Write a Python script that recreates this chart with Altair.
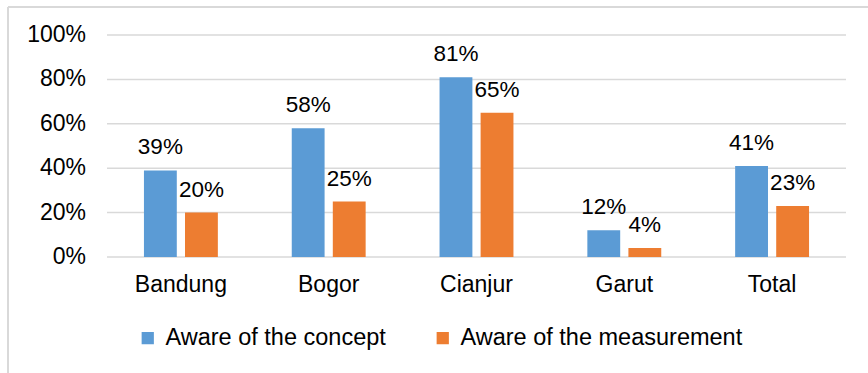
import altair as alt
import pandas as pd

# Survey results by district
districts = ["Bandung", "Bogor", "Cianjur", "Garut", "Total"]
aware_concept = [0.39, 0.58, 0.81, 0.12, 0.41]
aware_measurement = [0.20, 0.25, 0.65, 0.04, 0.23]
series_names = ["Aware of the concept", "Aware of the measurement"]
y_ticks = [0, 0.2, 0.4, 0.6, 0.8, 1.0]

rows = []
for i, d in enumerate(districts):
    rows.append({"district": d, "series": series_names[0], "value": aware_concept[i]})
    rows.append({"district": d, "series": series_names[1], "value": aware_measurement[i]})
df = pd.DataFrame(rows)
ticks_df = pd.DataFrame({"value": y_ticks})
cats_df = pd.DataFrame({"district": districts})

FONT = "Liberation Sans"
W, H = 739, 222
LEFT, TOP = 107, 35

x_scale = alt.Scale(domain=districts, paddingInner=0.5, paddingOuter=0.25)
y_scale = alt.Scale(domain=[0, 1], nice=False)

x_enc = alt.X("district:N", sort=districts, title=None, scale=x_scale, axis=None)
xoff = alt.XOffset("series:N", sort=series_names,
                   scale=alt.Scale(paddingInner=0.2, paddingOuter=0))
y_enc = alt.Y("value:Q", title=None, scale=y_scale, axis=None)
color = alt.Color("series:N", sort=series_names,
                  scale=alt.Scale(domain=series_names, range=["#5B9BD5", "#ED7D31"]),
                  legend=alt.Legend(title=None, orient="none", direction="horizontal",
                                    legendX=29, legendY=291, symbolType="square",
                                    symbolSize=150, symbolStrokeWidth=0,
                                    labelFontSize=23.5, labelFont=FONT,
                                    labelColor="#000000", labelOffset=6,
                                    labelLimit=400, columnPadding=45, padding=0))

# Horizontal gridlines and percentage tick labels
grid = alt.Chart(ticks_df).mark_rule(color="#d9d9d9", strokeWidth=1.5).encode(
    y=y_enc, x=alt.value(0), x2=alt.value(W))
tick_labels = alt.Chart(ticks_df).mark_text(
    fontSize=23, font=FONT, color="#000000", align="right", baseline="middle"
).encode(y=y_enc, x=alt.value(-21), text=alt.Text("value:Q", format=".0%"))

bars = alt.Chart(df).mark_bar().encode(x=x_enc, xOffset=xoff, y=y_enc, color=color)

labels = alt.Chart(df).mark_text(fontSize=22.5, font=FONT, color="#000000",
                                 dy=-16, baseline="alphabetic").encode(
    x=x_enc, xOffset=xoff, y=y_enc,
    text=alt.Text("value:Q", format=".0%"),
)

# District names under each group
cat_labels = alt.Chart(cats_df).mark_text(
    fontSize=23, font=FONT, color="#000000", align="center", baseline="top"
).encode(x=x_enc, y=alt.value(H + 17), text="district:N")

# Light frame along the top and left edges of the figure
frame_top = alt.Chart(df).mark_rule(color="#d9d9d9", strokeWidth=1.5).encode(
    x=alt.value(8 - LEFT), x2=alt.value(900), y=alt.value(7 - TOP), y2=alt.value(7 - TOP))
frame_left = alt.Chart(df).mark_rule(color="#d9d9d9", strokeWidth=1.5).encode(
    x=alt.value(8 - LEFT), x2=alt.value(8 - LEFT), y=alt.value(7 - TOP), y2=alt.value(400))

chart = alt.layer(grid, tick_labels, bars, labels, cat_labels, frame_top, frame_left).properties(
    width=W, height=H,
    autosize=alt.AutoSizeParams(type="none"),
    padding={"left": LEFT, "top": TOP, "right": 868 - LEFT - W, "bottom": 373 - TOP - H},
).configure(background="white").configure_view(stroke="transparent", strokeWidth=0)

chart.save("out.html", embed_options={"renderer": "svg", "actions": False})
